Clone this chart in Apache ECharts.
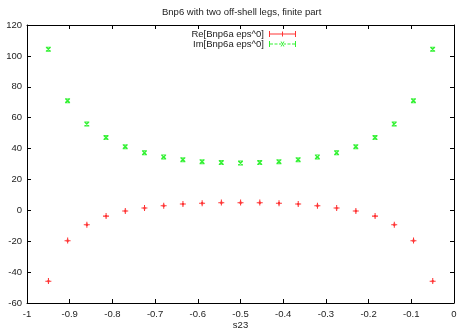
<!DOCTYPE html>
<html>
<head>
    <meta charset="UTF-8">
    <title>Bnp6</title>
    <script src="https://cdn.jsdelivr.net/npm/echarts@6/dist/echarts.min.js"></script>
    <style>
        html, body { margin: 0; padding: 0; background: #fff; }
        #chart { width: 458px; height: 330px; }
    </style>
</head>
<body>
    <div id="chart"></div>
    <script>
        // data
        var s23 = [-0.95, -0.905, -0.86, -0.815, -0.77, -0.725, -0.68, -0.635, -0.59, -0.545, -0.5,
                   -0.455, -0.41, -0.365, -0.32, -0.275, -0.23, -0.185, -0.14, -0.095, -0.05];
        var reVals = [-45.8, -19.6, -9.3, -3.7, -0.4, 1.5, 3.0, 4.1, 4.6, 5.0, 5.0,
                      5.0, 4.6, 4.1, 3.0, 1.5, -0.4, -3.7, -9.3, -19.6, -45.8];
        var imVals = [104.3, 71.0, 55.9, 47.1, 41.2, 37.3, 34.6, 32.8, 31.5, 30.9, 30.6,
                      30.9, 31.5, 32.8, 34.6, 37.3, 41.2, 47.1, 55.9, 71.0, 104.3];
        var seriesNames = ['Re[Bnp6a eps^0]', 'Im[Bnp6a eps^0]'];

        function pairs(xs, ys) {
            var out = [];
            for (var i = 0; i < xs.length; i++) out.push([xs[i], ys[i]]);
            return out;
        }

        var font = 'Liberation Sans, Arial, sans-serif';
        // '+' with a small error bar thickening the middle
        var plusMark = 'path://M3 0h1.2v7h-1.2z M0 3h7v1.2h-7z M2.4 2.2h2.4v2.8h-2.4z';
        var crossMark = 'path://M0 0L1.3 0L6 4.7L6 6L4.7 6L0 1.3Z M6 0L6 1.3L1.3 6L0 6L0 4.7L4.7 0Z M0 0h6v0.8h-6z M0 5.2h6v0.8h-6z';
        var reIcon = 'path://M0 0h1v6h-1z M0 2.5h27v1h-27z M26 0h1v6h-1z M13 0.5h1v5h-1z';
        var imIcon = 'path://M0 0h1v6h-1z M26 0h1v6h-1z M1 2.5h3v1h-3z M5.5 2.5h3v1h-3z M10 2.5h2v1h-2z ' +
                     'M15 2.5h2v1h-2z M18.5 2.5h3v1h-3z M23 2.5h3v1h-3z ' +
                     'M11.5 0.5L12.5 0.5L15.5 5.5L14.5 5.5Z M14.5 0.5L15.5 0.5L12.5 5.5L11.5 5.5Z';

        var axisBase = {
            type: 'value',
            splitLine: { show: false },
            axisLine: { show: true, onZero: false, lineStyle: { color: '#000', width: 1 } },
            axisTick: { show: true, inside: true, length: 4, lineStyle: { color: '#000' } },
            axisLabel: { color: '#222', fontFamily: font, fontSize: 9.5 }
        };

        var chart = echarts.init(document.getElementById('chart'), null, { renderer: 'canvas' });
        chart.setOption({
            animation: false,
            backgroundColor: '#fff',
            title: {
                text: 'Bnp6 with two off-shell legs, finite part',
                left: 162, top: 7, padding: 0,
                textStyle: { fontFamily: font, fontSize: 9.5, fontWeight: 'normal', color: '#222' }
            },
            legend: {
                orient: 'vertical',
                align: 'right',
                right: 162, top: 29, padding: 0,
                itemGap: 0,
                itemWidth: 27, itemHeight: 6,
                textStyle: { fontFamily: font, fontSize: 9.5, color: '#222', lineHeight: 10 },
                data: [
                    { name: seriesNames[0], icon: reIcon, itemStyle: { color: '#ff0000' } },
                    { name: seriesNames[1], icon: imIcon, itemStyle: { color: '#00ee00' } }
                ]
            },
            grid: { left: 27, right: 4, top: 25, bottom: 27, containLabel: false, outerBoundsMode: 'none' },
            xAxis: [
                Object.assign({}, axisBase, {
                    min: -1, max: 0, interval: 0.1,
                    name: 's23', nameLocation: 'middle', nameGap: 17.5, nameMoveOverlap: false,
                    nameTextStyle: { color: '#222', fontFamily: font, fontSize: 9.5 },
                    axisLabel: {
                        color: '#222', fontFamily: font, fontSize: 9.5, margin: 6,
                        formatter: function (v) { return String(parseFloat(v.toFixed(1))); }
                    }
                }),
                Object.assign({}, axisBase, {
                    position: 'top', min: -1, max: 0, interval: 0.1,
                    axisLabel: { show: false }
                })
            ],
            yAxis: [
                Object.assign({}, axisBase, {
                    min: -60, max: 120, interval: 20,
                    axisLabel: { color: '#222', fontFamily: font, fontSize: 9.5, margin: 5 }
                }),
                Object.assign({}, axisBase, {
                    position: 'right', min: -60, max: 120, interval: 20,
                    axisLabel: { show: false }
                })
            ],
            series: [
                {
                    name: seriesNames[0],
                    type: 'scatter',
                    symbol: plusMark,
                    symbolSize: 6,
                    itemStyle: { color: '#ff0000' },
                    data: pairs(s23, reVals)
                },
                {
                    name: seriesNames[1],
                    type: 'scatter',
                    symbol: crossMark,
                    symbolSize: 5,
                    itemStyle: { color: '#00ee00' },
                    data: pairs(s23, imVals)
                }
            ]
        });
    </script>
</body>
</html>
